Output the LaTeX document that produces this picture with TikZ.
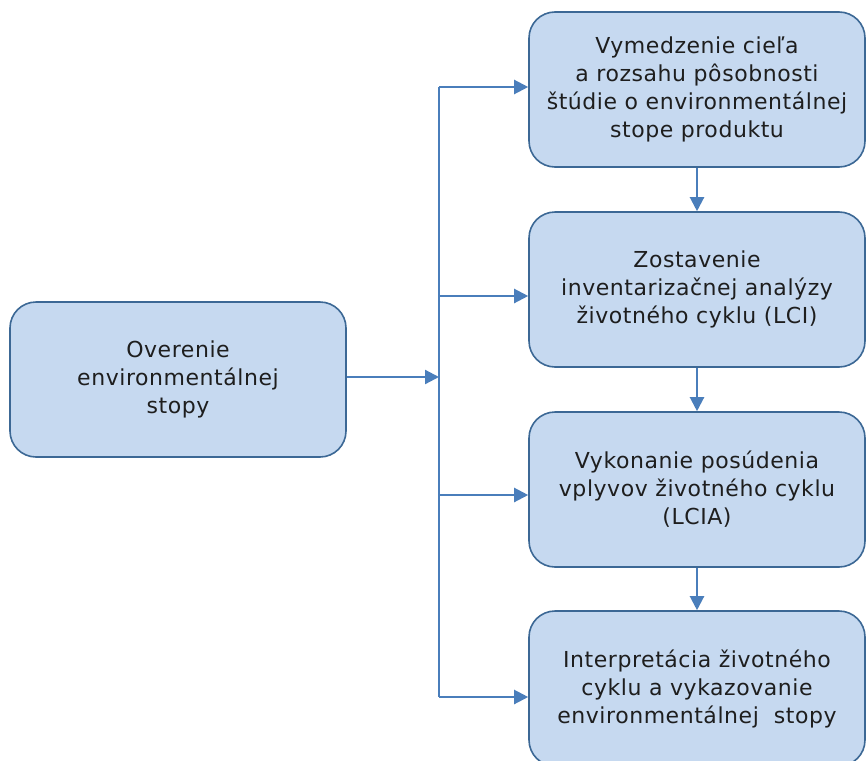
\documentclass[tikz,border=0pt]{standalone}
\usepackage{fontspec}
\setmainfont{DejaVu Sans}[LetterSpace=2.5]
\usetikzlibrary{arrows.meta}
\definecolor{boxfill}{HTML}{C6D9F0}
\definecolor{boxline}{HTML}{3C6895}
\definecolor{flow}{HTML}{4A7EBB}
\definecolor{ink}{HTML}{1E1E1E}
\tikzset{
  stage/.style={draw=boxline, fill=boxfill, line width=1.6pt, rounded corners=26pt,
    minimum width=336pt, minimum height=155pt, inner sep=0pt,
    align=center, text=ink, font=\fontsize{22}{28}\selectfont},
  flowarrow/.style={draw=flow, line width=2.2pt, -{Triangle[length=14pt,width=14pt]}},
  flowline/.style={draw=flow, line width=2.2pt}
}
\begin{document}
\begin{tikzpicture}[x=1pt, y=-1pt]
\useasboundingbox (0,0) rectangle (866,760);
\clip (0,0) rectangle (866,760);

% source box on the left
\node[stage] (src) at (178,379.5) {Overenie\\environmentálnej\\stopy};

% the four stages on the right
\node[stage] (s1) at (697,89.5) {Vymedzenie cieľa\\a rozsahu pôsobnosti\\štúdie o environmentálnej\\stope produktu};
\node[stage] (s2) at (697,289.5) {Zostavenie\\inventarizačnej analýzy\\životného cyklu (LCI)};
\node[stage] (s3) at (697,489.5) {Vykonanie posúdenia\\vplyvov životného cyklu\\(LCIA)};
\node[stage] (s4) at (697,688.5) {Interpretácia životného\\cyklu a vykazovanie\\environmentálnej~ stopy};

% distribution bus
\coordinate (b1) at (439,87);
\coordinate (b2) at (439,296);
\coordinate (b3) at (439,495);
\coordinate (b4) at (439,697);
\coordinate (bin) at (439,377);

\draw[flowline] (b1) -- (b4);
\draw[flowarrow] (src.east |- bin) -- (bin);
\draw[flowarrow] (b1) -- (s1.west |- b1);
\draw[flowarrow] (b2) -- (s2.west |- b2);
\draw[flowarrow] (b3) -- (s3.west |- b3);
\draw[flowarrow] (b4) -- (s4.west |- b4);

% sequence between stages
\draw[flowarrow] (s1.south) -- (s2.north);
\draw[flowarrow] (s2.south) -- (s3.north);
\draw[flowarrow] (s3.south) -- (s4.north);
\end{tikzpicture}
\end{document}
